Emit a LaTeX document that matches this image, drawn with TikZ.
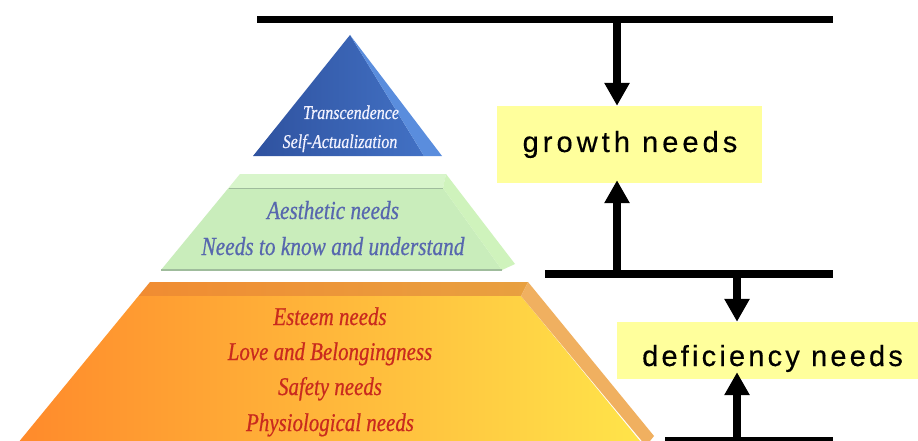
\documentclass[tikz,border=0pt]{standalone}
\usepackage{fontspec}
\setmainfont{Liberation Serif}
\newfontfamily\pyrfont[FakeStretch=0.82,FakeBold=0.6]{Liberation Serif Italic}
\newfontfamily\growthfont[LetterSpace=14,FakeBold=0.4]{Liberation Sans}
\newfontfamily\deffont[LetterSpace=11,FakeBold=0.4]{Liberation Sans}
\usetikzlibrary{arrows.meta}
\definecolor{boxyellow}{HTML}{FFFF9C}
\definecolor{blueA}{HTML}{2F529F}
\definecolor{blueB}{HTML}{4271C4}
\definecolor{blueside}{HTML}{5A8DDD}
\definecolor{bluetext}{HTML}{F2F2FF}
\definecolor{greenfront}{HTML}{C9EDBB}
\definecolor{greentop}{HTML}{D8F5CB}
\definecolor{greenside}{HTML}{CFF3BC}
\definecolor{greenline}{HTML}{9FBC9C}
\definecolor{greentext}{HTML}{5767AE}
\definecolor{orangeL}{HTML}{FF8A2B}
\definecolor{orangeR}{HTML}{FFE44A}
\definecolor{orangetopL}{HTML}{F08C32}
\definecolor{orangetopR}{HTML}{E8A040}
\definecolor{orangeside}{HTML}{F0B060}
\definecolor{redtext}{HTML}{C92A1E}
\begin{document}
\begin{tikzpicture}[x=1pt,y=-1pt,
  bar/.style={line width=7.5pt},
  arr/.style={line width=8pt,-{Triangle[width=24pt,length=23pt]}},
  boxnode/.style={fill=boxyellow,inner sep=0pt},
  bluelabel/.style={text=bluetext,anchor=base,inner sep=0pt,font=\pyrfont\fontsize{19.5}{19.5}\selectfont},
  greenlabel/.style={text=greentext,anchor=base,inner sep=0pt,font=\pyrfont\fontsize{26}{26}\selectfont},
  redlabel/.style={text=redtext,anchor=base,inner sep=0pt,font=\pyrfont\fontsize{25.5}{25.5}\selectfont}]
\useasboundingbox (0,0) rectangle (918,441);
\clip (0,0) rectangle (918,441);
\fill[white] (0,0) rectangle (918,441);

% blue triangle
\shade[left color=blueA,right color=blueB] (350,35) -- (253,156) -- (424,156) -- cycle;
\fill[blueside] (350,35) -- (442,156) -- (424,156) -- cycle;
\node[bluelabel] (t1) at (351,119) {Transcendence};
\node[bluelabel] (t2) at (340,148) {Self-Actualization};

% green trapezoid
\fill[greentop] (240,174) -- (446,174) -- (443,188) -- (228.5,188) -- cycle;
\fill[greenfront] (228.5,188) -- (443,188) -- (502,270) -- (161,270) -- cycle;
\fill[greenside] (446,174) -- (515,264) -- (502,270) -- (443,188) -- cycle;
\draw[greenline,line width=0.6pt] (228.5,188) -- (443,188);
\draw[greenline,line width=1.6pt] (161,270) -- (502,270);
\node[greenlabel] (g1) at (333,219) {Aesthetic needs};
\node[greenlabel] (g2) at (333,255) {Needs to know and understand};

% orange trapezoid
\shade[left color=orangetopL,right color=orangetopR] (150,282) -- (528,282) -- (521,296) -- (138.5,296) -- cycle;
\shade[left color=orangeL,right color=orangeR] (138.5,296) -- (521,296) -- (640,441) -- (19.6,441) -- cycle;
\fill[orangeside] (528,282) -- (654,436) -- (646,446) -- (521,296) -- cycle;
\node[redlabel] (r1) at (330,325) {Esteem needs};
\node[redlabel] (r2) at (330,360) {Love and Belongingness};
\node[redlabel] (r3) at (330,395) {Safety needs};
\node[redlabel] (r4) at (330,431) {Physiological needs};

% bars
\coordinate (tbL) at (257,19.5);
\coordinate (tbR) at (833,19.5);
\coordinate (mbL) at (545,274);
\coordinate (mbR) at (833,274);
\coordinate (bbL) at (665,441);
\coordinate (bbR) at (833,441);
\draw[bar] (tbL) -- (tbR);
\draw[bar] (mbL) -- (mbR);
\draw[bar] (bbL) -- (bbR);

% boxes
\node[boxnode,minimum width=265pt,minimum height=77pt] (gn) at (629.5,144.5) {};
\node[anchor=base,inner sep=0pt,font=\growthfont\fontsize{29}{29}\selectfont] (gt) at (630,152) {growth needs};
\node[boxnode,anchor=west,minimum width=310pt,minimum height=57pt] (dn) at (617,350.5) {};
\node[anchor=base west,inner sep=0pt,font=\deffont\fontsize{29}{29}\selectfont] (dt) at (642,366) {deficiency needs};

% arrows
\coordinate (a1) at (617,19.5);
\coordinate (a2) at (617,274);
\coordinate (a3) at (737,274);
\coordinate (a4) at (737,441);
\draw[arr] (a1) -- (a1 |- gn.north);
\draw[arr] (a2) -- ([yshift=3pt]a2 |- gn.south);
\draw[arr] (a3) -- (a3 |- dn.north);
\draw[arr] (a4) -- ([yshift=7pt]a4 |- dn.south);
\end{tikzpicture}
\end{document}
